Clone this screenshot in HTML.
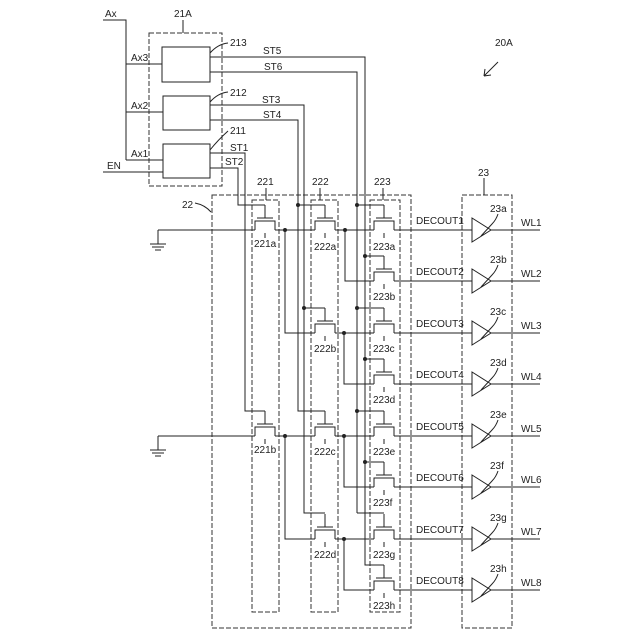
<!DOCTYPE html>
<html><head><meta charset="utf-8"><style>
html,body{margin:0;padding:0;background:#fff}
svg{display:block}
text{font-family:"Liberation Sans",sans-serif;font-size:10px;fill:#222}
</style></head><body>
<svg width="640" height="640" viewBox="0 0 640 640" xmlns="http://www.w3.org/2000/svg">
<defs>
<g id="tr" fill="none" stroke="#222" stroke-width="1">
<path d="M-10,0 V-9 H10 V0 M-8,-12 H8 M0,-12 V-25 M0,3 V8"/>
</g>
<g id="buf" fill="none" stroke="#222" stroke-width="1">
<path d="M0,-12 V12 L19,0 Z M19,0 H68 M9,6 L20,-6 Q24,-10 26,-16"/>
</g>
</defs>
<g fill="none" stroke="#333" stroke-width="1" stroke-dasharray="5,2">
<rect x="149" y="33" width="73" height="153"/>
<rect x="212" y="195" width="199" height="433"/>
<rect x="252" y="200" width="27" height="412"/>
<rect x="311" y="200" width="27" height="412"/>
<rect x="370" y="200" width="30" height="412"/>
<rect x="462" y="195" width="50" height="433"/>
</g>
<g fill="none" stroke="#222" stroke-width="1">
<rect x="162" y="47" width="48" height="35"/>
<rect x="163" y="96" width="47" height="34"/>
<rect x="163" y="144" width="47" height="34"/>
<path d="M103,20 H126 V160 M126,64 H162 M126,112 H163 M126,160 H163 M103,172 H163"/>
<path d="M210,57 H365 V565 H384 M210,72 H357 V513 M210,105 H304 V513 H325 M210,120 H298 V411 H325 M210,153 H245 V411 H265 M210,168 H238 V205 H265"/>
<path d="M298,205 H325 M304,308 H325 M357,205 H384 M365,256 H384 M357,308 H384 M365,359 H384 M357,411 H384 M365,462 H384 M357,513 H384"/>
<path d="M158,230 H255 M275,230 H315 M335,230 H374 M394,230 H472"/>
<path d="M345,230 V281 H374 M394,281 H472"/>
<path d="M285,230 V333 H315 M335,333 H374 M394,333 H472"/>
<path d="M344,333 V384 H374 M394,384 H472"/>
<path d="M158,436 H255 M275,436 H315 M335,436 H374 M394,436 H472"/>
<path d="M344,436 V487 H374 M394,487 H472"/>
<path d="M285,436 V539 H315 M335,539 H374 M394,539 H472"/>
<path d="M344,539 V590 H374 M394,590 H472"/>
<path d="M158,230 V244 M150,244 H166 M152,247 H164 M155,250 H161"/>
<path d="M158,436 V450 M150,450 H166 M152,453 H164 M155,456 H161"/>
<path d="M183,20 V33 M484,178 V195 M498,62 L484,76 M484,76 l1,-7 M484,76 l7,-1"/>
<path d="M266,188 V200 M320,188 V200 M383,188 V200 M195,203 Q205,205 211,212"/>
<path d="M210,53 Q218,44 228,43 M210,102 Q218,93 228,92 M210,150 Q218,140 228,131"/>
</g>
<g fill="#222">
<circle cx="285" cy="230" r="2"/><circle cx="345" cy="230" r="2"/><circle cx="344" cy="333" r="2"/>
<circle cx="285" cy="436" r="2"/><circle cx="344" cy="436" r="2"/><circle cx="344" cy="539" r="2"/>
<circle cx="298" cy="205" r="2"/><circle cx="304" cy="308" r="2"/>
<circle cx="357" cy="205" r="2"/><circle cx="357" cy="308" r="2"/><circle cx="357" cy="411" r="2"/>
<circle cx="365" cy="256" r="2"/><circle cx="365" cy="359" r="2"/><circle cx="365" cy="462" r="2"/>
</g>
<use href="#tr" x="265" y="230"/><use href="#tr" x="265" y="436"/>
<use href="#tr" x="325" y="230"/><use href="#tr" x="325" y="333"/><use href="#tr" x="325" y="436"/><use href="#tr" x="325" y="539"/>
<use href="#tr" x="384" y="230"/><use href="#tr" x="384" y="281"/><use href="#tr" x="384" y="333"/><use href="#tr" x="384" y="384"/>
<use href="#tr" x="384" y="436"/><use href="#tr" x="384" y="487"/><use href="#tr" x="384" y="539"/><use href="#tr" x="384" y="590"/>
<use href="#buf" x="472" y="230"/><use href="#buf" x="472" y="281"/><use href="#buf" x="472" y="333"/><use href="#buf" x="472" y="384"/>
<use href="#buf" x="472" y="436"/><use href="#buf" x="472" y="487"/><use href="#buf" x="472" y="539"/><use href="#buf" x="472" y="590"/>
<text x="105" y="17">Ax</text><text x="174" y="17">21A</text>
<text x="131" y="61">Ax3</text><text x="131" y="109">Ax2</text><text x="131" y="157">Ax1</text><text x="107" y="169">EN</text>
<text x="230" y="46">213</text><text x="230" y="96">212</text><text x="230" y="134">211</text>
<text x="263" y="54">ST5</text><text x="264" y="70">ST6</text><text x="262" y="103">ST3</text><text x="263" y="118">ST4</text>
<text x="230" y="151">ST1</text><text x="225" y="165">ST2</text>
<text x="257" y="185">221</text><text x="312" y="185">222</text><text x="374" y="185">223</text>
<text x="182" y="208">22</text><text x="478" y="176">23</text><text x="495" y="46">20A</text>
<text x="254" y="247">221a</text><text x="254" y="453">221b</text>
<text x="314" y="250">222a</text><text x="314" y="352">222b</text><text x="314" y="455">222c</text><text x="314" y="558">222d</text>
<text x="373" y="250">223a</text><text x="373" y="300">223b</text><text x="373" y="352">223c</text><text x="373" y="403">223d</text>
<text x="373" y="455">223e</text><text x="373" y="506">223f</text><text x="373" y="558">223g</text><text x="373" y="609">223h</text>
<g font-size="9">
<text x="416" y="224">DECOUT1</text><text x="416" y="275">DECOUT2</text><text x="416" y="327">DECOUT3</text><text x="416" y="378">DECOUT4</text>
<text x="416" y="430">DECOUT5</text><text x="416" y="481">DECOUT6</text><text x="416" y="533">DECOUT7</text><text x="416" y="584">DECOUT8</text>
</g>
<text x="490" y="212">23a</text><text x="490" y="263">23b</text><text x="490" y="315">23c</text><text x="490" y="366">23d</text>
<text x="490" y="418">23e</text><text x="490" y="469">23f</text><text x="490" y="521">23g</text><text x="490" y="572">23h</text>
<text x="521" y="226">WL1</text><text x="521" y="277">WL2</text><text x="521" y="329">WL3</text><text x="521" y="380">WL4</text>
<text x="521" y="432">WL5</text><text x="521" y="483">WL6</text><text x="521" y="535">WL7</text><text x="521" y="586">WL8</text>
</svg>
</body></html>
